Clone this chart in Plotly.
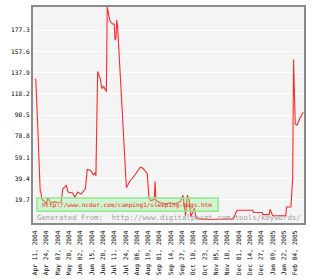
import plotly.graph_objects as go

dates = ["2004-04-11","2004-04-12","2004-04-14","2004-04-17","2004-04-18","2004-04-19","2004-04-21","2004-04-24",
         "2004-04-26","2004-04-28","2004-05-01","2004-05-04","2004-05-07","2004-05-11","2004-05-13","2004-05-17",
         "2004-05-19","2004-05-24","2004-05-27","2004-05-30","2004-06-03","2004-06-08","2004-06-10","2004-06-14",
         "2004-06-17","2004-06-19","2004-06-20","2004-06-22","2004-06-25","2004-06-27","2004-06-29","2004-07-02",
         "2004-07-03","2004-07-06","2004-07-09","2004-07-11","2004-07-12","2004-07-13","2004-07-14","2004-07-15",
         "2004-07-25","2004-07-29","2004-08-04","2004-08-10","2004-08-13","2004-08-18","2004-08-20","2004-08-22",
         "2004-08-26","2004-08-27","2004-08-28","2004-09-02","2004-09-08","2004-09-13","2004-09-19","2004-09-25",
         "2004-09-28","2004-10-01","2004-10-03","2004-10-05","2004-10-07","2004-10-11","2004-10-13","2004-10-18",
         "2004-10-29","2004-11-10","2004-11-25","2004-11-29","2004-12-17","2004-12-18","2004-12-28","2004-12-29",
         "2005-01-05","2005-01-06","2005-01-09","2005-01-24","2005-01-25","2005-01-30","2005-02-01","2005-02-02",
         "2005-02-04","2005-02-06","2005-02-09","2005-02-13"]
values = [132, 131, 92, 28, 26, 20, 19, 16,
          22, 18, 17, 18, 17, 17, 30, 33,
          27, 26, 22, 27, 25, 30, 48, 47,
          43, 45, 42, 139, 132, 123, 125, 120,
          199, 186, 183, 183, 168, 170, 187, 180,
          31, 37, 43, 50, 49, 44, 21, 19,
          20, 37, 19, 17, 16, 17, 16, 18,
          24, 5, 24, 20, 4, 12, 3, 2,
          1.5, 1.5, 2, 10, 10, 8, 8, 6,
          6, 11, 5, 5, 13, 13, 40, 150,
          90, 89, 95, 101]

tick_vals = ["2004-04-11","2004-04-24","2004-05-07","2004-05-20","2004-06-02","2004-06-15","2004-06-28",
             "2004-07-11","2004-07-24","2004-08-06","2004-08-19","2004-09-01","2004-09-14","2004-09-27",
             "2004-10-10","2004-10-23","2004-11-05","2004-11-18","2004-12-01","2004-12-14","2004-12-27",
             "2005-01-09","2005-01-22","2005-02-04"]
tick_text = ["Apr 11, 2004","Apr 24, 2004","May 07, 2004","May 20, 2004","Jun 02, 2004","Jun 15, 2004",
             "Jun 28, 2004","Jul 11, 2004","Jul 24, 2004","Aug 06, 2004","Aug 19, 2004","Sep 01, 2004",
             "Sep 14, 2004","Sep 27, 2004","Oct 10, 2004","Oct 23, 2004","Nov 05, 2004","Nov 18, 2004",
             "Dec 01, 2004","Dec 14, 2004","Dec 27, 2004","Jan 09, 2005","Jan 22, 2005","Feb 04, 2005"]
y_ticks = [19.7, 39.4, 59.1, 78.8, 98.5, 118.2, 137.9, 157.6, 177.3]
y_text = ["19.7", "39.4", "59.1", "78.8", "98.5", "118.2", "137.9", "157.6", "177.3"]

url_label = "http://www.ncdar.com/camping1/sleeping-bags.htm"
source_label = "Generated From:  http://www.digitalpoint.com/tools/keywords/"

mono = "DejaVu Sans Mono"

fig = go.Figure()
fig.add_trace(go.Scatter(x=dates, y=values, mode="lines",
                         line=dict(color="#ff2a2a", width=1.1), showlegend=False, hoverinfo="skip"))

fig.update_layout(
    width=313, height=280,
    margin=dict(l=33, r=9, t=5, b=51),
    paper_bgcolor="white", plot_bgcolor="#f4f4f4",
    xaxis=dict(type="date", range=["2004-04-08 18:00", "2005-02-14"],
               tickmode="array", tickvals=tick_vals, ticktext=tick_text, tickangle=-90,
               tickfont=dict(family=mono, size=6.2, color="black"), ticklabelstandoff=3,
               showgrid=False, zeroline=False, showline=True, linecolor="#8a8a8a", linewidth=2,
               mirror=True, ticks=""),
    yaxis=dict(range=[-1.8, 198.8], tickmode="array", tickvals=y_ticks, ticktext=y_text,
               tickfont=dict(family=mono, size=6.2, color="black"),
               showgrid=True, gridcolor="white", gridwidth=1, zeroline=False,
               showline=True, linecolor="#8a8a8a", linewidth=2, mirror=True, ticks=""),
    shapes=[dict(type="rect", xref="paper", yref="paper", x0=0.0148, x1=0.683, y0=0.054, y1=0.116,
                 fillcolor="rgba(140,240,140,0.35)", line=dict(color="#90e890", width=1.5), layer="above")],
    annotations=[
        dict(text=url_label, xref="paper", yref="paper", x=0.025, y=0.085, xanchor="left", yanchor="middle",
             showarrow=False, font=dict(family=mono, size=6, color="#ee2222")),
        dict(text=source_label, xref="paper", yref="paper", x=0.007, y=0.027, xanchor="left", yanchor="middle",
             showarrow=False, font=dict(family=mono, size=7.3, color="#a0a0a0")),
    ],
)

fig.write_html("out.html")
